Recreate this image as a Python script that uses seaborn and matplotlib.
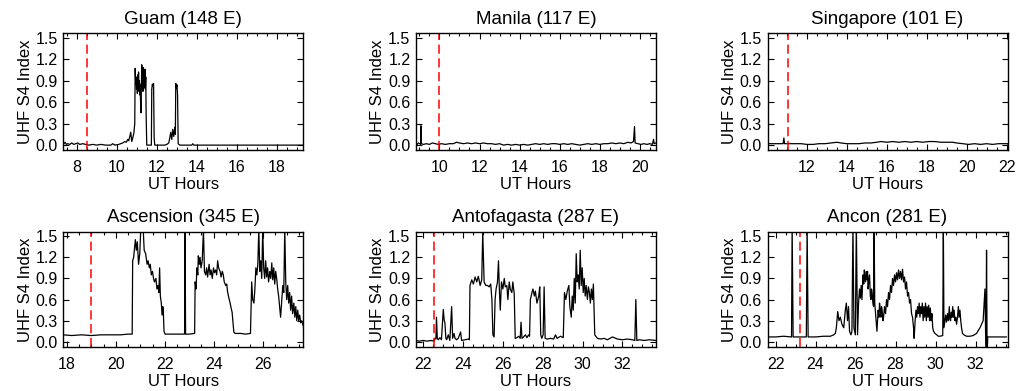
import matplotlib
matplotlib.use('Agg')
import pandas as pd
import matplotlib.pyplot as plt
import seaborn as sns
from matplotlib.ticker import MultipleLocator, FormatStrFormatter

# (UT hour, S4)
guam = [(7.33, 0.01), (7.42, 0.04), (7.48, 0.01), (7.55, 0.02), (7.65, 0.01), (7.75, 0.03),
        (7.85, 0.01), (7.95, 0.02), (8.05, 0.03), (8.15, 0.01), (8.3, 0.02), (8.45, 0.01),
        (8.6, 0.0), (8.8, 0.01), (9.0, 0.0), (9.2, 0.01), (9.45, 0.0), (9.7, 0.0), (9.8, 0.02),
        (9.9, 0.0), (10.1, 0.01), (10.3, 0.03), (10.4, 0.05), (10.48, 0.04), (10.55, 0.08),
        (10.6, 0.06), (10.65, 0.12), (10.7, 0.18), (10.75, 0.05), (10.8, 0.1), (10.85, 0.16),
        (10.9, 0.3), (10.92, 1.07), (10.95, 0.85), (10.97, 0.95), (10.99, 0.78), (11.01, 0.92),
        (11.03, 0.72), (11.05, 0.98), (11.07, 0.8), (11.09, 1.02), (11.11, 0.75), (11.13, 0.9),
        (11.15, 0.7), (11.17, 0.85), (11.19, 0.6), (11.21, 0.45), (11.23, 0.8), (11.25, 1.12),
        (11.27, 0.9), (11.29, 1.05), (11.31, 0.75), (11.33, 1.08), (11.35, 0.8), (11.37, 1.0),
        (11.39, 0.85), (11.41, 1.06), (11.43, 0.78), (11.45, 0.95), (11.47, 0.4), (11.5, 0.0),
        (11.55, 0.0), (11.65, 0.0), (11.73, 0.0), (11.75, 0.78), (11.78, 0.85), (11.81, 0.82),
        (11.84, 0.86), (11.87, 0.1), (11.9, 0.0), (12.0, 0.0), (12.2, 0.0), (12.4, 0.0),
        (12.5, 0.01), (12.55, 0.02), (12.6, 0.03), (12.65, 0.1), (12.7, 0.18), (12.75, 0.08),
        (12.8, 0.22), (12.85, 0.12), (12.9, 0.25), (12.93, 0.15), (12.95, 0.86), (12.98, 0.8),
        (13.01, 0.84), (13.04, 0.7), (13.07, 0.02), (13.15, 0.0), (13.4, 0.0), (13.75, 0.0),
        (13.8, 0.02), (13.85, 0.0), (14.2, 0.0), (15.0, 0.0), (16.0, 0.0), (17.0, 0.0),
        (18.0, 0.0), (19.0, 0.0), (19.33, 0.0)]

manila = [(8.83, 0.28), (8.85, 0.02), (8.9, 0.01), (8.95, 0.03), (9.02, 0.02), (9.06, 0.01),
          (9.08, 0.27), (9.1, 0.02), (9.2, 0.01), (9.35, 0.02), (9.5, 0.01), (9.65, 0.03),
          (9.8, 0.02), (9.95, 0.01), (10.1, 0.02), (10.3, 0.01), (10.5, 0.02), (10.7, 0.02),
          (10.85, 0.04), (11.0, 0.03), (11.2, 0.02), (11.4, 0.03), (11.6, 0.02), (11.8, 0.03),
          (12.0, 0.02), (12.2, 0.03), (12.4, 0.02), (12.6, 0.02), (12.8, 0.01), (13.0, 0.02),
          (13.2, 0.0), (13.4, 0.01), (13.6, 0.0), (13.8, 0.01), (14.0, 0.0), (14.2, 0.01),
          (14.4, 0.0), (14.6, 0.01), (14.8, 0.02), (15.0, 0.01), (15.2, 0.02), (15.4, 0.01),
          (15.6, 0.02), (15.8, 0.02), (16.0, 0.01), (16.2, 0.02), (16.4, 0.01), (16.6, 0.02),
          (16.8, 0.01), (17.0, 0.0), (17.2, 0.01), (17.4, 0.02), (17.6, 0.01), (17.8, 0.02),
          (18.0, 0.01), (18.2, 0.02), (18.4, 0.02), (18.6, 0.03), (18.8, 0.02), (19.0, 0.03),
          (19.2, 0.02), (19.4, 0.04), (19.55, 0.03), (19.68, 0.05), (19.73, 0.26), (19.76, 0.03),
          (19.9, 0.02), (20.05, 0.01), (20.2, 0.02), (20.35, 0.01), (20.5, 0.02), (20.62, 0.01),
          (20.68, 0.08), (20.71, 0.02), (20.8, 0.03)]

singapore = [(10.02, 0.02), (10.35, 0.02), (10.6, 0.02), (10.8, 0.02), (10.84, 0.1),
             (10.87, 0.02), (11.1, 0.02), (11.4, 0.02), (11.7, 0.02), (12.0, 0.01), (12.3, 0.01),
             (12.6, 0.02), (12.9, 0.02), (13.2, 0.03), (13.5, 0.04), (13.7, 0.03), (14.0, 0.02),
             (14.3, 0.02), (14.6, 0.02), (14.9, 0.03), (15.2, 0.03), (15.5, 0.04), (15.7, 0.05),
             (16.0, 0.04), (16.3, 0.05), (16.6, 0.04), (16.9, 0.05), (17.2, 0.04), (17.5, 0.05),
             (17.8, 0.04), (18.1, 0.05), (18.4, 0.05), (18.7, 0.04), (19.0, 0.04), (19.3, 0.04),
             (19.5, 0.03), (19.8, 0.02), (20.1, 0.01), (20.4, 0.02), (20.7, 0.01), (21.0, 0.02),
             (21.3, 0.01), (21.6, 0.02), (22.05, 0.02)]

ascension = [(17.86, 0.1), (18.2, 0.09), (18.6, 0.1), (19.0, 0.09), (19.4, 0.1), (19.8, 0.1),
             (20.2, 0.1), (20.5, 0.11), (20.67, 0.11), (20.69, 1.15), (20.73, 1.2), (20.77, 1.35),
             (20.8, 1.45), (20.84, 1.3), (20.88, 1.42), (20.93, 1.1), (20.98, 1.25), (21.02, 1.6),
             (21.12, 1.6), (21.16, 1.3), (21.22, 1.25), (21.28, 1.1), (21.32, 1.15), (21.37, 1.05),
             (21.41, 1.1), (21.45, 0.95), (21.5, 1.0), (21.54, 0.9), (21.58, 0.85), (21.64, 0.9),
             (21.68, 0.75), (21.72, 0.8), (21.76, 0.7), (21.79, 1.05), (21.82, 0.65), (21.86, 0.55),
             (21.89, 0.38), (21.92, 0.5), (21.94, 0.45), (21.97, 0.15), (22.01, 0.11), (22.3, 0.11),
             (22.6, 0.11), (22.81, 0.11), (22.83, 1.65), (22.85, 0.11), (23.0, 0.11), (23.22, 0.12),
             (23.24, 0.85), (23.28, 0.75), (23.31, 1.05), (23.35, 0.95), (23.37, 1.22), (23.41, 1.1),
             (23.44, 1.2), (23.48, 1.05), (23.53, 1.15), (23.58, 1.6), (23.62, 1.0), (23.67, 0.95),
             (23.71, 1.05), (23.75, 0.92), (23.81, 1.1), (23.85, 0.95), (23.89, 1.02), (23.94, 0.9),
             (23.99, 1.05), (24.03, 0.98), (24.08, 1.02), (24.12, 0.95), (24.16, 1.15), (24.2, 1.05),
             (24.26, 1.0), (24.3, 0.92), (24.35, 1.0), (24.39, 0.95), (24.43, 0.85), (24.49, 0.8),
             (24.53, 0.82), (24.57, 0.7), (24.62, 0.62), (24.67, 0.55), (24.71, 0.48), (24.75, 0.42),
             (24.78, 0.3), (24.82, 0.14), (24.87, 0.12), (25.1, 0.12), (25.3, 0.11), (25.5, 0.12),
             (25.55, 0.85), (25.59, 0.6), (25.64, 0.55), (25.68, 0.75), (25.72, 1.05), (25.76, 0.95),
             (25.8, 1.1), (25.84, 1.6), (25.88, 1.0), (25.92, 1.15), (25.96, 0.9), (26.0, 1.6),
             (26.04, 1.05), (26.08, 0.9), (26.12, 1.15), (26.16, 0.92), (26.2, 1.05), (26.24, 0.85),
             (26.29, 1.0), (26.33, 0.9), (26.37, 1.12), (26.41, 0.88), (26.45, 1.05), (26.49, 0.82),
             (26.53, 1.0), (26.57, 0.9), (26.61, 0.75), (26.65, 0.65), (26.69, 0.5), (26.73, 0.35),
             (26.78, 0.6), (26.82, 0.8), (26.86, 0.7), (26.9, 1.6), (26.94, 0.85), (26.98, 0.6),
             (27.02, 0.8), (27.06, 0.55), (27.1, 0.7), (27.14, 0.45), (27.18, 0.65), (27.22, 0.4),
             (27.27, 0.55), (27.31, 0.35), (27.35, 0.5), (27.39, 0.3), (27.43, 0.45), (27.47, 0.3),
             (27.51, 0.38), (27.55, 0.27), (27.59, 0.3), (27.66, 0.22)]

antofagasta = [(21.64, 0.02), (21.8, 0.01), (22.0, 0.02), (22.2, 0.01), (22.4, 0.02), (22.55, 0.01),
               (22.59, 0.05), (22.64, 0.04), (22.67, 0.35), (22.71, 0.05), (22.76, 0.03), (22.84, 0.06),
               (22.92, 0.03), (23.01, 0.46), (23.06, 0.3), (23.09, 0.28), (23.14, 0.05), (23.18, 0.03),
               (23.26, 0.1), (23.34, 0.02), (23.43, 0.5), (23.48, 0.05), (23.55, 0.12), (23.6, 0.05),
               (23.68, 0.03), (23.76, 0.05), (23.88, 0.14), (23.93, 0.02), (24.1, 0.03), (24.27, 0.04),
               (24.32, 0.03), (24.35, 0.8), (24.44, 0.88), (24.52, 0.82), (24.61, 0.92), (24.69, 0.85),
               (24.77, 0.93), (24.86, 0.8), (24.94, 0.88), (24.99, 1.55), (25.06, 0.85), (25.14, 0.8),
               (25.23, 0.8), (25.31, 0.78), (25.39, 0.82), (25.45, 0.6), (25.5, 0.1), (25.56, 0.07),
               (25.61, 0.6), (25.66, 0.75), (25.73, 0.85), (25.78, 1.15), (25.83, 0.7), (25.87, 0.45),
               (25.93, 0.85), (26.0, 0.75), (26.07, 0.9), (26.12, 0.78), (26.2, 0.8), (26.25, 0.6),
               (26.32, 0.85), (26.37, 0.75), (26.45, 0.7), (26.5, 0.85), (26.57, 0.68), (26.62, 0.05),
               (26.71, 0.06), (26.79, 0.08), (26.87, 0.05), (26.91, 0.28), (26.96, 0.05), (27.04, 0.07),
               (27.13, 0.1), (27.21, 0.06), (27.29, 0.1), (27.34, 0.08), (27.38, 0.6), (27.46, 0.7),
               (27.51, 0.75), (27.58, 0.65), (27.63, 0.72), (27.71, 0.55), (27.8, 0.65), (27.85, 0.78),
               (27.9, 0.1), (27.95, 0.05), (28.02, 0.1), (28.07, 0.78), (28.12, 0.05), (28.22, 0.04),
               (28.39, 0.05), (28.55, 0.04), (28.64, 0.1), (28.72, 0.05), (28.89, 0.08), (29.03, 0.06),
               (29.09, 0.7), (29.16, 0.6), (29.23, 0.72), (29.31, 0.8), (29.36, 0.5), (29.43, 0.35),
               (29.48, 0.65), (29.53, 0.45), (29.58, 0.9), (29.63, 0.55), (29.68, 1.25), (29.73, 0.85),
               (29.78, 0.95), (29.83, 0.75), (29.88, 1.3), (29.93, 0.8), (29.98, 1.05), (30.03, 0.7),
               (30.08, 0.9), (30.13, 0.65), (30.18, 0.8), (30.24, 0.6), (30.29, 0.78), (30.34, 0.7),
               (30.39, 0.55), (30.44, 0.75), (30.49, 0.6), (30.54, 0.82), (30.61, 0.1), (30.74, 0.05),
               (30.91, 0.04), (31.08, 0.05), (31.24, 0.03), (31.5, 0.07), (31.75, 0.04), (32.0, 0.03),
               (32.25, 0.04), (32.5, 0.03), (32.62, 0.02), (32.67, 0.6), (32.72, 0.02), (32.84, 0.03),
               (33.09, 0.02), (33.34, 0.03), (33.68, 0.02)]

ancon = [(21.6, 0.07), (22.0, 0.07), (22.4, 0.08), (22.8, 0.07), (22.83, 1.65), (22.88, 0.07),
         (23.2, 0.07), (23.54, 0.07), (23.58, 1.65), (23.63, 0.07), (24.0, 0.07), (24.4, 0.08),
         (24.74, 0.08), (24.91, 0.1), (24.99, 0.12), (25.04, 0.2), (25.11, 0.43), (25.17, 0.3),
         (25.24, 0.35), (25.32, 0.25), (25.41, 0.2), (25.49, 0.45), (25.54, 0.55), (25.6, 0.3),
         (25.65, 0.5), (25.7, 0.15), (25.77, 0.1), (25.82, 0.15), (25.87, 1.65), (25.92, 0.2),
         (25.99, 0.1), (26.04, 1.65), (26.1, 0.1), (26.15, 0.55), (26.2, 0.75), (26.24, 0.62),
         (26.28, 0.8), (26.32, 0.6), (26.37, 0.95), (26.41, 0.82), (26.44, 1.02), (26.47, 0.9),
         (26.5, 0.85), (26.54, 1.0), (26.57, 0.88), (26.6, 1.0), (26.63, 0.75), (26.67, 0.9),
         (26.7, 0.95), (26.74, 0.65), (26.77, 0.6), (26.8, 0.75), (26.83, 0.7), (26.87, 0.55),
         (26.9, 0.5), (26.93, 1.65), (26.96, 0.55), (27.0, 0.4), (27.04, 0.25), (27.07, 0.15),
         (27.1, 0.3), (27.13, 0.45), (27.17, 0.35), (27.2, 0.55), (27.24, 0.45), (27.27, 0.35),
         (27.3, 0.5), (27.33, 0.45), (27.37, 0.3), (27.4, 0.35), (27.45, 0.5), (27.5, 0.4),
         (27.55, 0.6), (27.6, 0.5), (27.65, 0.7), (27.7, 0.6), (27.75, 0.8), (27.8, 0.7),
         (27.85, 0.9), (27.9, 0.8), (27.95, 0.95), (28.0, 0.85), (28.05, 0.98), (28.1, 0.88),
         (28.15, 1.02), (28.2, 0.9), (28.25, 1.0), (28.3, 0.88), (28.35, 1.03), (28.4, 0.85),
         (28.45, 0.92), (28.5, 0.75), (28.55, 0.85), (28.6, 0.65), (28.65, 0.7), (28.7, 0.55),
         (28.75, 0.6), (28.8, 0.4), (28.85, 0.35), (28.9, 0.2), (28.93, 0.05), (28.98, 0.3),
         (29.02, 0.45), (29.06, 0.35), (29.1, 0.5), (29.14, 0.4), (29.18, 0.55), (29.22, 0.35),
         (29.26, 0.5), (29.3, 0.4), (29.34, 0.55), (29.38, 0.3), (29.42, 0.5), (29.46, 0.35),
         (29.5, 0.55), (29.54, 0.3), (29.58, 0.5), (29.62, 0.35), (29.66, 0.52), (29.7, 0.3),
         (29.74, 0.48), (29.78, 0.3), (29.82, 0.4), (29.86, 0.2), (29.9, 0.15), (29.97, 0.12),
         (30.06, 0.1), (30.14, 0.08), (30.22, 0.08), (30.36, 0.09), (30.39, 1.65), (30.42, 0.2),
         (30.47, 0.3), (30.51, 0.38), (30.55, 0.28), (30.6, 0.4), (30.64, 0.3), (30.69, 0.5),
         (30.72, 0.32), (30.75, 0.3), (30.79, 0.42), (30.82, 0.35), (30.86, 0.5), (30.89, 0.35),
         (30.93, 0.45), (30.97, 0.3), (31.01, 0.35), (31.05, 0.25), (31.1, 0.35), (31.14, 0.5),
         (31.18, 0.35), (31.22, 0.45), (31.26, 0.3), (31.3, 0.2), (31.35, 0.12), (31.42, 0.1),
         (31.55, 0.08), (31.72, 0.08), (31.88, 0.09), (32.05, 0.12), (32.22, 0.2), (32.3, 0.25),
         (32.38, 0.3), (32.47, 0.75), (32.52, -0.2), (32.55, 1.3), (32.58, -0.2), (32.61, 0.07),
         (32.66, 0.07), (32.88, 0.07), (33.21, 0.07), (33.55, 0.07)]

titles = ['Guam (148 E)', 'Manila (117 E)', 'Singapore (101 E)',
          'Ascension (345 E)', 'Antofagasta (287 E)', 'Ancon (281 E)']
series = [guam, manila, singapore, ascension, antofagasta, ancon]
sunset_ut = [8.5, 10.0, 11.05, 19.0, 22.54, 23.2]
x_limits = [(7.33, 19.33), (8.83, 20.8), (10.02, 22.05),
            (17.86, 27.66), (21.64, 33.68), (21.6, 33.6)]

sns.set_style('ticks')
plt.rcParams['font.family'] = ['Liberation Sans', 'DejaVu Sans']
plt.rcParams.update({'text.color': 'black', 'axes.labelcolor': 'black',
                     'xtick.color': 'black', 'ytick.color': 'black'})

fig = plt.figure(figsize=(10.17, 3.91), dpi=100)
lefts = [0.0623, 0.409, 0.7547]
rows = [(0.616, 0.299), (0.113, 0.294)]

for i, (name, data) in enumerate(zip(titles, series)):
    bottom, height = rows[i // 3]
    ax = fig.add_axes([lefts[i % 3], bottom, 0.236, height])
    df = pd.DataFrame(data, columns=['UT', 'S4'])
    sns.lineplot(data=df, x='UT', y='S4', ax=ax, color='black', lw=0.9,
                 estimator=None, sort=False)
    ax.axvline(sunset_ut[i], color='red', ls=(0, (6, 3)), lw=1.1)
    ax.set_xlim(*x_limits[i])
    ax.set_ylim(-0.07, 1.56)
    ax.set_yticks([0.0, 0.3, 0.6, 0.9, 1.2, 1.5])
    ax.yaxis.set_major_formatter(FormatStrFormatter('%.1f'))
    ax.xaxis.set_major_locator(MultipleLocator(2))
    ax.xaxis.set_minor_locator(MultipleLocator(0.5))
    ax.tick_params(direction='in', top=True, right=True, which='both',
                   labelsize=11.5, width=0.8, colors='black')
    ax.tick_params(axis='x', which='major', length=4, pad=7)
    ax.tick_params(axis='y', which='major', length=4, pad=4)
    ax.tick_params(which='minor', length=2)
    for s in ax.spines.values():
        s.set_linewidth(1.0)
        s.set_color('black')
    ax.set_title(name, fontsize=13.5, pad=7, color='black')
    ax.set_xlabel('UT Hours', fontsize=12, labelpad=1.5)
    ax.set_ylabel('UHF S4 Index', fontsize=12, labelpad=2)

fig.savefig('out.png', dpi=100)
